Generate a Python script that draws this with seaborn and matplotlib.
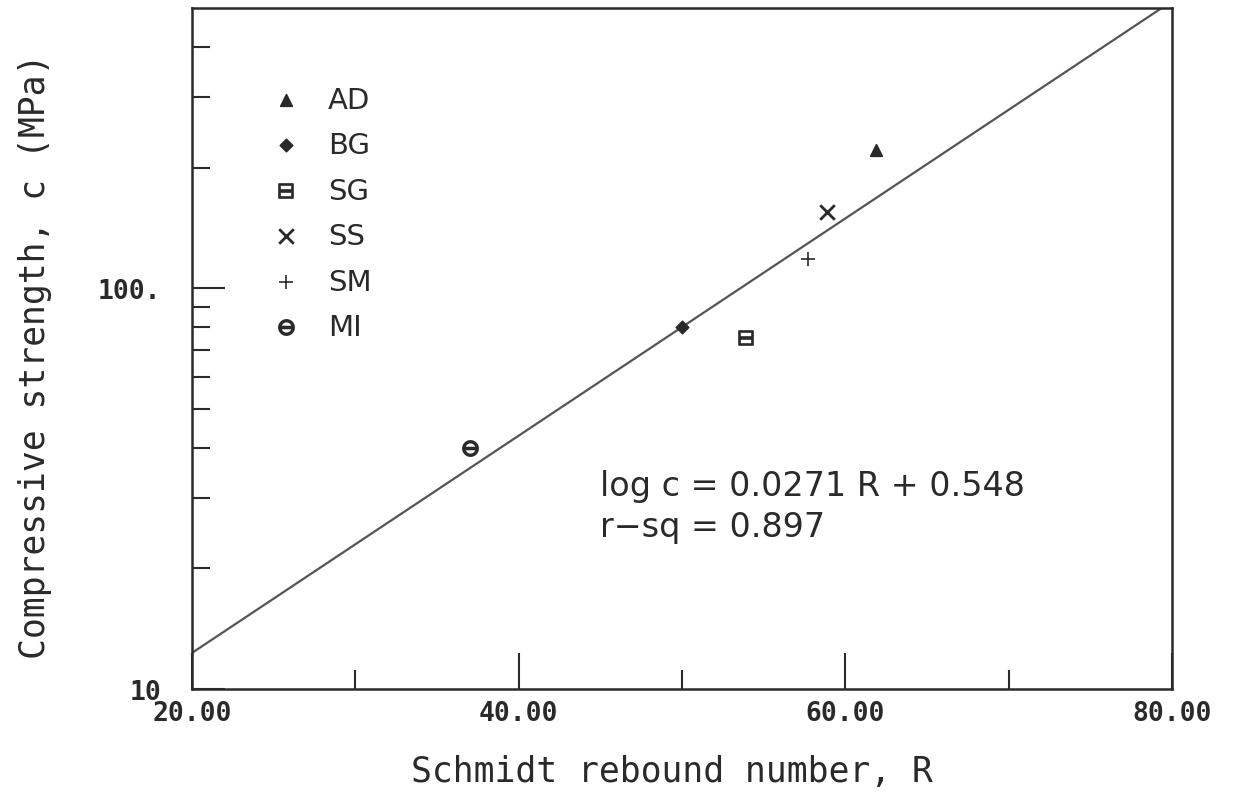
import matplotlib
matplotlib.use("Agg")
import matplotlib.pyplot as plt
import matplotlib.ticker as mticker
import numpy as np
import pandas as pd
import seaborn as sns

# rock types and mean values
rocks = ["AD", "BG", "SG", "SS", "SM", "MI"]
rebound = [61.9, 50.0, 53.9, 58.9, 57.7, 37.0]
strength = [221, 80.2, 75.3, 155, 118, 40.0]

# fitted line: log c = a R + b
fit_a = 0.0271
fit_b = 0.548
fit_r = [20, 80]

x_ticks = [20, 40, 60, 80]
x_minor = [30, 50, 70]
x_ticklabels = ["20.00", "40.00", "60.00", "80.00"]
y_ticks = [10, 100]
y_ticklabels = ["10", "100."]
y_minor = [20, 30, 40, 50, 60, 70, 80, 90, 200, 300, 400]

df = pd.DataFrame({"rock": rocks, "R": rebound, "c": strength})
fit = pd.DataFrame({"R": fit_r})
fit["c"] = 10 ** (fit_a * fit["R"] + fit_b)

sns.set_style("white")
plt.rcParams["font.family"] = ["DejaVu Sans"]
ink = "#2a2a2a"

fig = plt.figure(figsize=(12.34, 8.04), dpi=100)
ax = fig.add_axes([192 / 1234, 1 - 690 / 804, 980 / 1234, 681 / 804])

sns.lineplot(data=fit, x="R", y="c", color="#555555", lw=1.6, ax=ax, legend=False)

markers = {"AD": "^", "BG": "D", "SG": r"$\boxminus$", "SS": "x",
           "SM": "+", "MI": r"$\ominus$"}
sizes = {"AD": 70, "BG": 40, "SG": 110, "SS": 110, "SM": 90, "MI": 120}
for r in rocks:
    sub = df[df["rock"] == r]
    sns.scatterplot(data=sub, x="R", y="c", marker=markers[r], s=sizes[r],
                    color=ink, linewidth=2 if r in ("SS",) else 1.2,
                    edgecolor=ink if r not in ("SS", "SM") else None,
                    label=r, ax=ax, zorder=3)

ax.set_yscale("log")
ax.set_xlim(20, 80)
ax.set_ylim(10, 500)

ax.set_xticks(x_ticks)
ax.set_xticklabels(x_ticklabels)
ax.xaxis.set_minor_locator(mticker.FixedLocator(x_minor))
ax.yaxis.set_major_locator(mticker.FixedLocator(y_ticks))
ax.yaxis.set_major_formatter(mticker.FixedFormatter(y_ticklabels))
ax.yaxis.set_minor_locator(mticker.FixedLocator(y_minor))
ax.yaxis.set_minor_formatter(mticker.NullFormatter())

ax.tick_params(which="both", bottom=True, left=True, top=False, right=False)
ax.tick_params(axis="x", which="major", direction="in", length=26, width=1.5,
               color=ink, pad=8, labelsize=19, labelcolor=ink)
ax.tick_params(axis="x", which="minor", direction="in", length=14, width=1.5,
               color=ink)
ax.tick_params(axis="y", which="major", direction="in", length=24, width=1.5,
               color=ink, pad=22, labelsize=19, labelcolor=ink)
ax.tick_params(axis="y", which="minor", direction="in", length=13, width=1.5,
               color=ink)
for lab in ax.get_xticklabels() + ax.get_yticklabels():
    lab.set_family("DejaVu Sans Mono")
    lab.set_fontweight("bold")

for sp in ax.spines.values():
    sp.set_visible(True)
    sp.set_color(ink)
    sp.set_linewidth(1.8)

ax.set_xlabel("Schmidt rebound number, R", family="DejaVu Sans Mono",
              fontsize=25, color=ink)
ax.set_ylabel("Compressive strength, c (MPa)", family="DejaVu Sans Mono",
              fontsize=25, color=ink)
ax.xaxis.set_label_coords(0.49, -0.095)
ax.yaxis.set_label_coords(-0.143, 0.49)

ax.text(600 / 1234, 1 - 487 / 804, "log c = 0.0271 R + 0.548",
        transform=fig.transFigure, fontsize=24, color=ink, va="center")
ax.text(600 / 1234, 1 - 528 / 804, "r\u2212sq = 0.897",
        transform=fig.transFigure, fontsize=24, color=ink, va="center")

leg = ax.legend(loc="upper left", bbox_to_anchor=(0.066, 0.886), frameon=False,
                fontsize=21, handletextpad=0.45, labelspacing=0.6,
                markerscale=1.0, borderaxespad=0, borderpad=0)
for t in leg.get_texts():
    t.set_color(ink)

fig.savefig("out.png", dpi=100)
